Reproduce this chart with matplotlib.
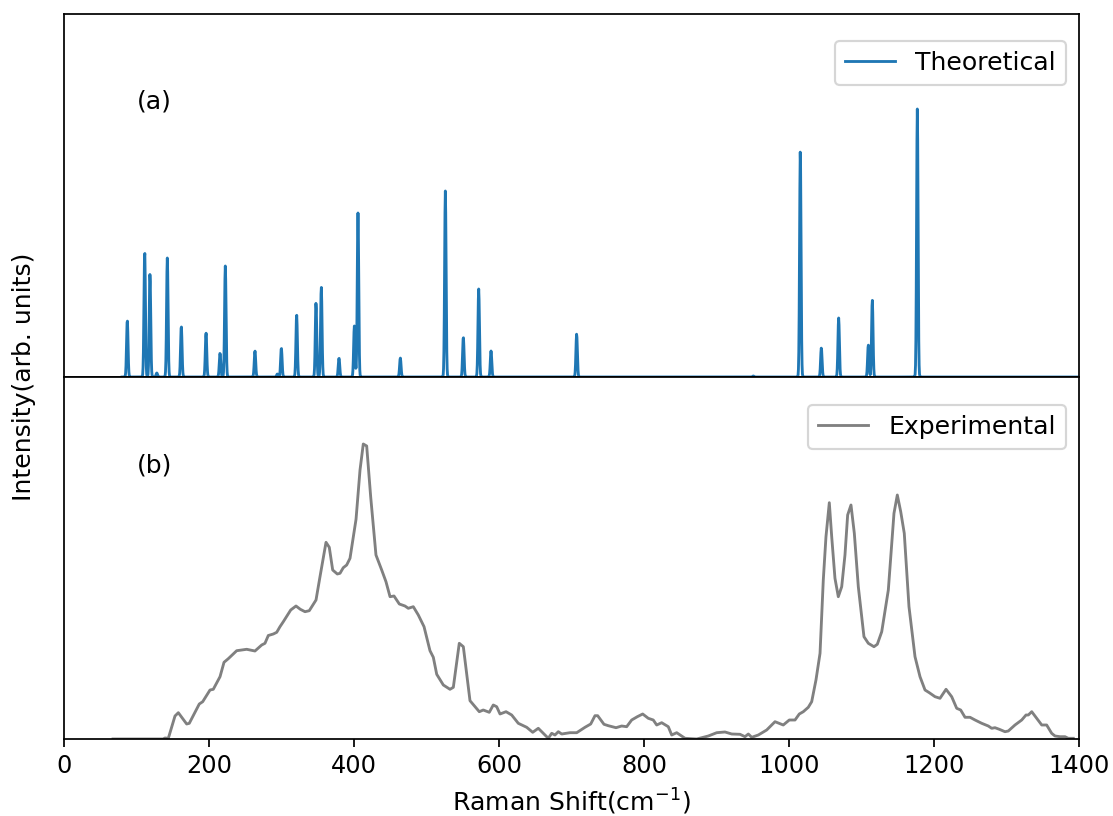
import numpy as np
import matplotlib
matplotlib.use("Agg")
import matplotlib.pyplot as plt

# Theoretical Raman peaks: position (cm^-1) and relative intensity (arb. units)
theo_pos = [87.3, 111.3, 118.6, 128.0, 142.5, 161.8, 195.9, 215.2, 222.5, 263.4,
            294.3, 299.8, 320.9, 347.6, 354.9, 379.3, 400.5, 405.5, 463.9, 526.0,
            550.8, 572.0, 589.0, 707.1, 950.8, 1015.6, 1044.6, 1068.5, 1109.4,
            1114.9, 1177.0]
theo_int = [57, 126, 103, 4, 119, 51, 44, 24, 111, 26,
            3, 29, 62, 74, 90, 19, 51, 164, 19, 186,
            40, 88, 26, 43, 1, 226, 29, 59, 32,
            77, 268]

# Experimental Raman spectrum
exp_x = [67.6, 86.9, 136.6, 139.3, 143.9, 153.1, 157.7, 169.2, 172.8, 186.6,
         191.3, 201.4, 205.9, 215.2, 220.7, 226.6, 238.2, 252.0, 263.4, 272.7,
         277.2, 281.8, 288.7, 293.4, 297.9, 302.5, 312.7, 320.0, 326.0, 332.4,
         338.3, 347.6, 353.1, 361.4, 365.9, 370.6, 377.0, 380.7, 385.2, 389.9,
         394.5, 402.8, 408.3, 412.8, 417.5, 423.0, 430.3, 438.2, 444.1, 449.7,
         455.2, 462.5, 470.3, 474.9, 481.8, 488.7, 496.6, 504.8, 509.4, 514.1,
         523.2, 532.4, 537.0, 545.2, 550.8, 560.0, 572.8, 578.3, 586.6, 592.1,
         596.8, 601.4, 609.7, 617.5, 626.6, 638.2, 646.5, 654.2, 668.0, 672.7,
         677.2, 681.8, 686.5, 697.9, 707.2, 718.6, 726.5, 732.4, 736.1, 744.8,
         750.8, 761.4, 769.2, 776.1, 783.0, 790.8, 798.2, 805.9, 812.8, 817.5,
         824.4, 833.5, 838.2, 845.1, 856.6, 872.7, 888.7, 900.3, 911.7, 921.0,
         932.4, 939.3, 943.9, 948.6, 957.7, 969.2, 980.7, 992.1, 1000.4, 1008.3,
         1014.2, 1019.7, 1026.6, 1031.3, 1037.2, 1042.8, 1047.3, 1051.0, 1055.6, 1058.9,
         1063.4, 1068.0, 1072.7, 1077.2, 1080.9, 1085.5, 1090.1, 1095.6, 1103.4, 1109.4,
         1117.2, 1121.8, 1127.9, 1137.0, 1144.8, 1149.4, 1154.1, 1159.0, 1165.5, 1173.8,
         1180.7, 1187.6, 1193.5, 1201.4, 1208.3, 1216.6, 1224.4, 1231.3, 1236.8, 1242.8,
         1249.7, 1256.6, 1265.8, 1274.9, 1279.6, 1284.1, 1290.1, 1297.9, 1302.5, 1311.7,
         1321.0, 1326.9, 1330.1, 1334.8, 1341.7, 1348.6, 1355.4, 1362.3, 1366.9, 1373.8,
         1380.7, 1385.2, 1392.1]
exp_y = [0, 0, 0, 1, 0.7, 23, 26.3, 15, 15.7, 35,
         37.3, 49, 49.7, 62.3, 76.7, 80.3, 88.3, 89.7, 88, 94,
         95.7, 103.5, 105, 106.7, 112.3, 117.3, 129, 133, 129.7, 127.3,
         128.3, 139, 162.3, 196.7, 191.7, 169, 165, 165.7, 171.3, 174,
         180.7, 219.7, 269, 295, 293, 242.3, 184, 169, 157.3, 142.3,
         143, 135, 133, 130.7, 132.3, 124, 112.3, 88.3, 81.7, 64.7,
         54, 49.7, 51.7, 95.7, 92.3, 38.3, 27.3, 29, 26.7, 34,
         32.3, 25, 27.3, 24, 15.7, 11.7, 6.7, 10.7, 0.7, 5.7,
         4, 7.3, 5, 6.3, 6.3, 11.7, 15, 23.3, 23.3, 14.7,
         13.3, 11.3, 13, 12.3, 19, 22.3, 25, 20.7, 19, 14,
         16.3, 12.3, 4, 6.3, 0.7, 0, 3, 6.3, 7, 5,
         4.7, 2.3, 5, 1.7, 4, 9, 17.3, 14, 19, 19,
         25, 27.3, 31.7, 37.3, 59, 85.7, 159, 202.3, 236.3, 202.3,
         160.7, 142.3, 152.3, 184, 224, 234, 205.7, 152.3, 102.3, 95.7,
         92.3, 94.7, 107.3, 149, 225.7, 244, 227.3, 205.7, 132.3, 82.3,
         62.3, 49, 46.3, 42.3, 40.7, 49.7, 42.3, 30.7, 29, 21.7,
         21.7, 19, 15.7, 13, 10.7, 11.3, 9.7, 7.3, 8, 14,
         19, 24, 24, 27.3, 20.7, 14, 14, 5.7, 3, 2.3,
         2.3, 0.7, 0.7]

x_ticks = [0, 200, 400, 600, 800, 1000, 1200, 1400]

# Broaden theoretical lines on a fine grid (narrow Gaussian line shape)
grid = np.arange(80, 1400.01, 0.5)
theo_spec = np.zeros_like(grid)
for p, a in zip(theo_pos, theo_int):
    theo_spec += a * np.exp(-0.5 * ((grid - p) / 1.0) ** 2)

DPI = 157
FS = 11.5
fig = plt.figure(figsize=(1113 / DPI, 816 / DPI), dpi=DPI)
plt.rcParams['font.family'] = ['DejaVu Sans']

left, right = 64 / 1113, 1079 / 1113
top_px, mid_px, bot_px = 14, 377, 739
H = 816
ax1 = fig.add_axes([left, 1 - mid_px / H, right - left, (mid_px - top_px) / H])
ax2 = fig.add_axes([left, 1 - bot_px / H, right - left, (bot_px - mid_px) / H], sharex=ax1)

ax1.plot(grid, theo_spec, color='#1f77b4', lw=1.3, label='Theoretical')
ax2.plot(exp_x, exp_y, color='gray', lw=1.3, label='Experimental')

ax1.set_xlim(0, 1400)
ax1.set_ylim(0, 363)
ax2.set_ylim(0, 362)

ax1.set_yticks([])
ax2.set_yticks([])
ax1.tick_params(axis='x', which='both', bottom=False, labelbottom=False)
ax2.set_xticks(x_ticks)
ax2.tick_params(axis='x', labelsize=11)

ax1.text(0.072, 0.76, '(a)', transform=ax1.transAxes, fontsize=FS, va='center')
ax2.text(0.072, 0.755, '(b)', transform=ax2.transAxes, fontsize=FS, va='center')

ax1.legend(loc='upper right', bbox_to_anchor=(0.9872, 0.9256), borderaxespad=0, fontsize=FS)
ax2.legend(loc='upper right', bbox_to_anchor=(0.9872, 0.9227), borderaxespad=0, fontsize=FS)

ax2.set_xlabel('Raman Shift(cm$^{-1}$)', fontsize=FS)
fig.text(0.022, 1 - mid_px / H, 'Intensity(arb. units)', rotation=90,
         va='center', ha='center', fontsize=FS)

fig.savefig('out.png', dpi=DPI)
